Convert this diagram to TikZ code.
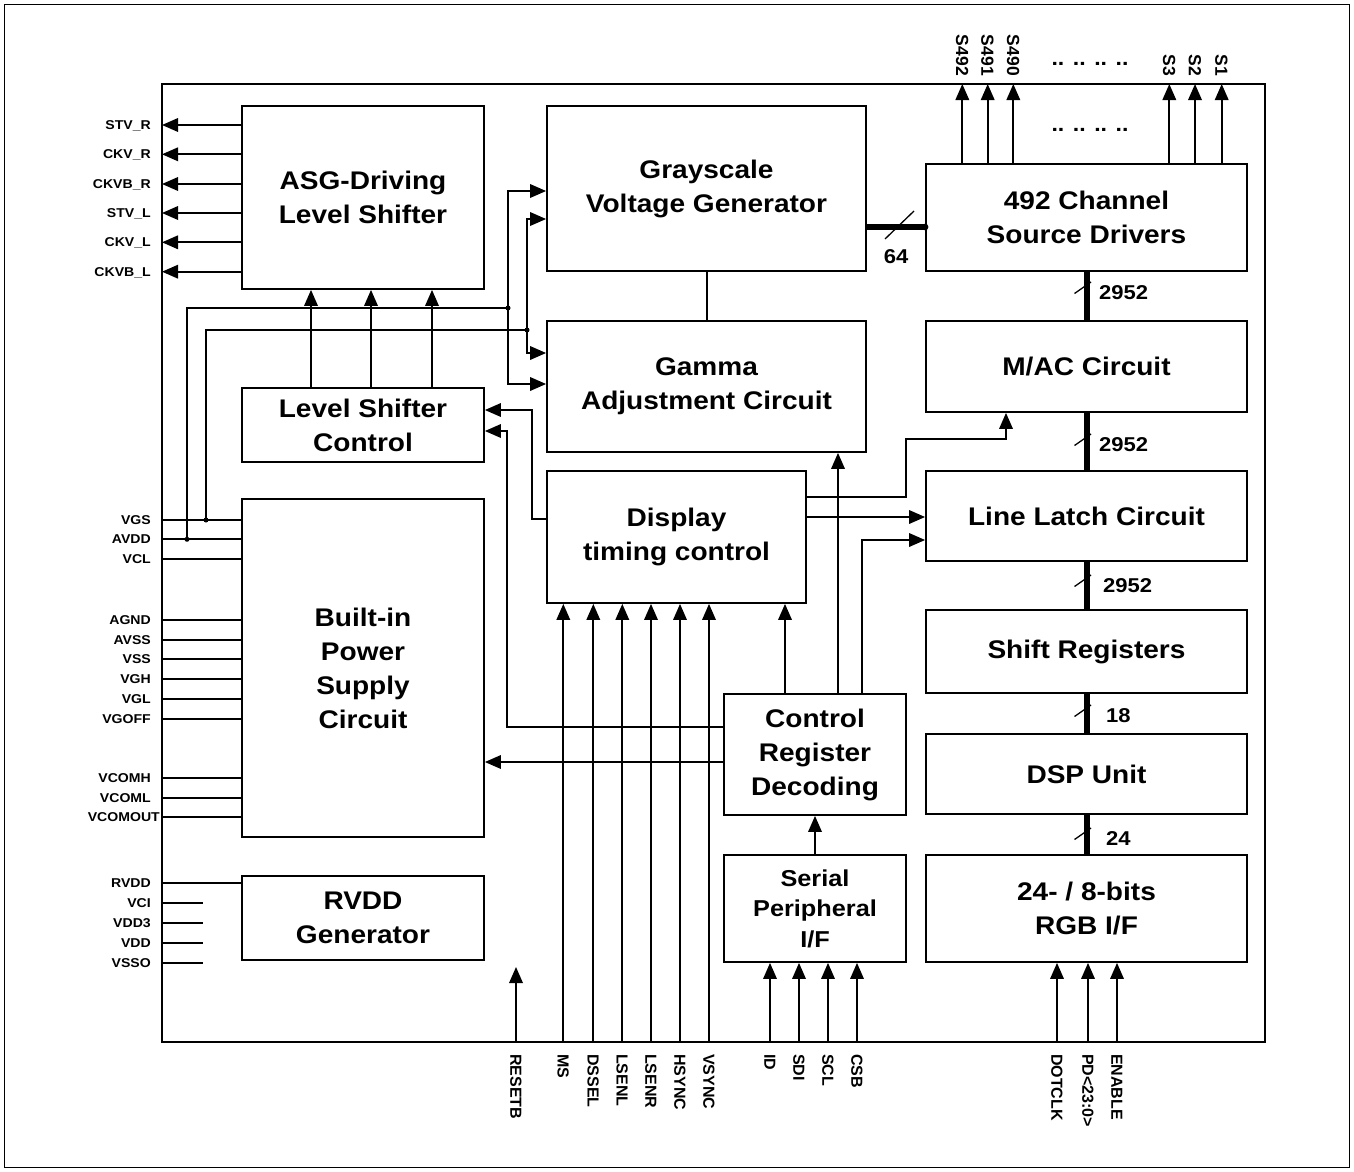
\documentclass[tikz,border=0pt]{standalone}
\usepackage{fontspec}
\setmainfont{Liberation Sans}
\newfontfamily\wfont[FakeStretch=1.1]{Liberation Sans}
\usetikzlibrary{arrows.meta}
\begin{document}
\begin{tikzpicture}[x=1pt,y=-1pt,
  box/.style={draw,line width=1.8pt,inner sep=0pt,align=center,font={\wfont\bfseries\fontsize{25.5}{34}\selectfont}},
  wire/.style={line width=1.8pt},
  arr/.style={wire,-{Triangle[length=16pt,width=13.5pt]}},
  bus/.style={line width=5.5pt},
  slash/.style={line width=1.3pt},
  pinl/.style={anchor=east,inner sep=0pt,font={\wfont\bfseries\fontsize{12.8}{14}\selectfont},text height=9pt,text depth=0pt},
  pinb/.style={anchor=west,rotate=-90,inner sep=0pt,font={\bfseries\fontsize{16}{18}\selectfont},text height=11.5pt,text depth=0pt},
  pint/.style={anchor=east,rotate=-90,inner sep=0pt,font={\bfseries\fontsize{17.5}{19}\selectfont},text height=12.5pt,text depth=0pt},
  buslab/.style={anchor=west,inner sep=0pt,font={\wfont\bfseries\fontsize{20}{22}\selectfont},text height=14.3pt,text depth=0pt},
  jdot/.style={circle,fill,inner sep=0pt,minimum size=5pt}
]
\useasboundingbox (0,0) rectangle (1354,1172);
\draw[line width=1pt] (4.5,4.5) rectangle (1349.5,1167.5);
\node[draw,line width=1.8pt,minimum width=1103pt,minimum height=958pt,inner sep=0pt] (chip) at (713.5,563) {};

% blocks
\node[box,minimum width=242pt,minimum height=183pt] (asg) at (363,197.5) {ASG-Driving\\Level Shifter};
\node[box,minimum width=242pt,minimum height=74pt] (lsc) at (363,425) {Level Shifter\\Control};
\node[box,minimum width=242pt,minimum height=338pt] (pwr) at (363,668) {Built-in\\Power\\Supply\\Circuit};
\node[box,minimum width=242pt,minimum height=84pt] (rvdd) at (363,918) {RVDD\\Generator};
\node[box,minimum width=319pt,minimum height=165pt] (gray) at (706.5,188.5) {Grayscale\\Voltage Generator};
\node[box,minimum width=319pt,minimum height=131pt] (gamma) at (706.5,386.5) {Gamma\\Adjustment Circuit};
\node[box,minimum width=259pt,minimum height=132pt] (dtc) at (676.5,537) {Display\\timing control};
\node[box,minimum width=182pt,minimum height=121pt] (crd) at (815,754.5) {Control\\Register\\Decoding};
\node[box,minimum width=182pt,minimum height=107pt,font={\wfont\bfseries\fontsize{23}{30.5}\selectfont}] (spi) at (815,908.5) {Serial\\Peripheral\\I/F};
\node[box,minimum width=321pt,minimum height=107pt] (src) at (1086.5,217.5) {492 Channel\\Source Drivers};
\node[box,minimum width=321pt,minimum height=91pt] (mac) at (1086.5,366.5) {M/AC Circuit};
\node[box,minimum width=321pt,minimum height=90pt] (llc) at (1086.5,516) {Line Latch Circuit};
\node[box,minimum width=321pt,minimum height=83pt] (shr) at (1086.5,651.5) {Shift Registers};
\node[box,minimum width=321pt,minimum height=80pt] (dsp) at (1086.5,774) {DSP Unit};
\node[box,minimum width=321pt,minimum height=107pt] (rgb) at (1086.5,908.5) {24- / 8-bits\\RGB I/F};

% ASG outputs
\foreach \y/\lab/\n in {125/STV\_R/a1,154.3/CKV\_R/a2,184/CKVB\_R/a3,213/STV\_L/a4,242.3/CKV\_L/a5,271.7/CKVB\_L/a6}{
  \coordinate (\n) at (162,\y);
  \node[pinl] (l\n) at (151,\y) {\lab};
  \draw[arr] (asg.west |- \n) -- (\n);
}
% LSC -> ASG
\foreach \x/\n in {311/u1,371/u2,432/u3}{
  \coordinate (\n) at (\x,300);
  \draw[arr] (lsc.north -| \n) -- (asg.south -| \n);
}
% power pins
\foreach \y/\lab/\n in {520/VGS/b1,539.3/AVDD/b2,559.3/VCL/b3,620/AGND/b4,640/AVSS/b5,659.3/VSS/b6,679.3/VGH/b7,699/VGL/b8,719/VGOFF/b9,777.7/VCOMH/b10,797.7/VCOML/b11}{
  \coordinate (\n) at (162,\y);
  \node[pinl] (l\n) at (151,\y) {\lab};
  \draw[wire] (\n) -- (pwr.west |- \n);
}
\coordinate (b12) at (162,817.3);
\node[pinl] (lb12) at (160,817.3) {VCOMOUT};
\draw[wire] (b12) -- (pwr.west |- b12);
\coordinate (c1) at (162,883.3);
\node[pinl] (lc1) at (151,883.3) {RVDD};
\draw[wire] (c1) -- (rvdd.west |- c1);
\foreach \y/\lab/\n in {903.3/VCI/c2,923.3/VDD3/c3,943.3/VDD/c4,963.3/VSSO/c5}{
  \coordinate (\n) at (162,\y);
  \coordinate (e\n) at (203,\y);
  \node[pinl] (l\n) at (151,\y) {\lab};
  \draw[wire] (\n) -- (e\n);
}

% AVDD net
\node[jdot] (j1) at (187,539.3) {};
\node[jdot] (j2) at (508,308) {};
\coordinate (k1) at (187,308);
\coordinate (t1) at (508,191);
\coordinate (t2) at (508,384);
\draw[wire] (j1.center) -- (k1) -- (j2.center);
\draw[arr] (j2.center) -- (t1) -- (gray.west |- t1);
\draw[arr] (j2.center) -- (t2) -- (gamma.west |- t2);
% VGS net
\node[jdot] (j3) at (206,520) {};
\node[jdot] (j4) at (527,330) {};
\coordinate (k2) at (206,330);
\coordinate (t3) at (527,219);
\coordinate (t4) at (527,353);
\draw[wire] (j3.center) -- (k2) -- (j4.center);
\draw[arr] (j4.center) -- (t3) -- (gray.west |- t3);
\draw[arr] (j4.center) -- (t4) -- (gamma.west |- t4);

% Grayscale -- Gamma
\coordinate (gg) at (707,300);
\draw[wire] (gray.south -| gg) -- (gamma.north -| gg);

% DTC -> LSC
\coordinate (d1) at (532,519);
\coordinate (d2) at (532,410);
\draw[arr] (dtc.west |- d1) -- (d1) -- (d2) -- (lsc.east |- d2);
% CRD -> LSC
\coordinate (f1) at (507,727);
\coordinate (f2) at (507,431);
\draw[arr] (crd.west |- f1) -- (f1) -- (f2) -- (lsc.east |- f2);
% CRD -> PWR
\coordinate (g1) at (600,762);
\draw[arr] (crd.west |- g1) -- (pwr.east |- g1);
% CRD -> DTC, Gamma, LLC
\coordinate (h1) at (785,650);
\coordinate (h2) at (838,650);
\coordinate (h3) at (862,540);
\draw[arr] (crd.north -| h1) -- (dtc.south -| h1);
\draw[arr] (crd.north -| h2) -- (gamma.south -| h2);
\draw[arr] (crd.north -| h3) -- (h3) -- (llc.west |- h3);
% DTC -> LLC, MAC
\coordinate (k3) at (850,517);
\draw[arr] (dtc.east |- k3) -- (llc.west |- k3);
\coordinate (m1) at (906,497);
\coordinate (m2) at (906,439);
\coordinate (m3) at (1006,439);
\draw[arr] (dtc.east |- m1) -- (m1) -- (m2) -- (m3) -- (mac.south -| m3);
% SPI -> CRD
\draw[arr] (spi.north) -- (crd.south);

% bottom pins to DTC
\foreach \x/\lab/\n in {563.3/MS/p1,593.3/DSSEL/p2,622.3/LSENL/p3,651/LSENR/p4,680/HSYNC/p5,709/VSYNC/p6}{
  \coordinate (\n) at (\x,1042);
  \node[pinb] (l\n) at (\x,1054) {\lab};
  \draw[arr] (\n) -- (dtc.south -| \n);
}
% RESETB
\coordinate (r0) at (516,1042);
\coordinate (r1) at (516,967);
\node[pinb] (lr0) at (516,1054) {RESETB};
\draw[arr] (r0) -- (r1);
% SPI pins
\foreach \x/\lab/\n in {770/ID/s1,799/SDI/s2,828/SCL/s3,857/CSB/s4}{
  \coordinate (\n) at (\x,1042);
  \node[pinb] (l\n) at (\x,1054) {\lab};
  \draw[arr] (\n) -- (spi.south -| \n);
}
% RGB pins
\foreach \x/\lab/\n in {1057/DOTCLK/v1,1088/PD<23:0>/v2,1117/ENABLE/v3}{
  \coordinate (\n) at (\x,1042);
  \node[pinb] (l\n) at (\x,1054) {\lab};
  \draw[arr] (\n) -- (rgb.south -| \n);
}
% source outputs
\foreach \x/\lab/\n in {962.3/S492/o1,987.7/S491/o2,1013.3/S490/o3,1169.3/S3/o4,1195/S2/o5,1221.7/S1/o6}{
  \coordinate (\n) at (\x,84);
  \node[pint] (l\n) at (\x,76) {\lab};
  \draw[arr] (src.north -| \n) -- (\n);
}
\node[anchor=base,inner sep=0pt,font={\wfont\bfseries\fontsize{21}{22}\selectfont}] (dots1) at (1090,66) {.. .. .. ..};
\node[anchor=base,inner sep=0pt,font={\wfont\bfseries\fontsize{21}{22}\selectfont}] (dots2) at (1090,131) {.. .. .. ..};

% 64 bus
\coordinate (b64) at (880,227);
\draw[bus] (gray.east |- b64) -- (src.west |- b64);
\fill (src.west |- b64) circle (3.3pt);
\draw[slash] (885,239) -- (914,211);
\node[anchor=center,inner sep=0pt,font={\wfont\bfseries\fontsize{20}{22}\selectfont}] (l64) at (896,257) {64};

% vertical buses
\coordinate (vb) at (1087,300);
\draw[bus] (src.south -| vb) -- (mac.north -| vb);
\draw[bus] (mac.south -| vb) -- (llc.north -| vb);
\draw[bus] (llc.south -| vb) -- (shr.north -| vb);
\draw[bus] (shr.south -| vb) -- (dsp.north -| vb);
\draw[bus] (dsp.south -| vb) -- (rgb.north -| vb);
\foreach \c/\lx/\lab/\n in {292/1099/2952/w1,444/1099/2952/w2,585/1103/2952/w3,715/1106/18/w4,838/1106/24/w5}{
  \draw[slash] (1074.5,\c+1.5) -- (1091,\c-10);
  \node[buslab] (\n) at (\lx,\c) {\lab};
}
\end{tikzpicture}
\end{document}
